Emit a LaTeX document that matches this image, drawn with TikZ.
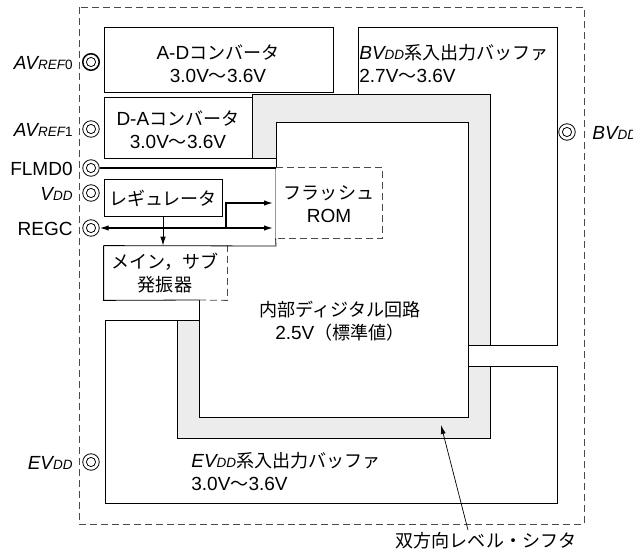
\documentclass[tikz,border=0pt]{standalone}
\usepackage{fontspec}
\setmainfont{Liberation Sans}
\newfontfamily\cjk{Noto Sans CJK JP}[Scale=0.95]
\usetikzlibrary{arrows.meta}
\definecolor{bandgray}{HTML}{ECECEC}
\definecolor{dashgray}{HTML}{4A4A4A}
\newcommand\smit[1]{{\itshape\fontsize{13.5}{13.5}\selectfont #1}}
\newcommand\smup[1]{{\fontsize{13.5}{13.5}\selectfont #1}}
\newcommand\bigit[1]{{\itshape #1}}
\newcommand\jp[1]{{\cjk #1}}
\begin{document}
\begin{tikzpicture}[x=1pt,y=-1pt,line width=0.8pt,
  font=\fontsize{19}{23}\selectfont,
  boxnode/.style={draw,rectangle,inner sep=0pt},
  txt/.style={inner sep=0pt,align=center},
  pinnode/.style={circle,draw,minimum size=16.5pt,inner sep=0pt,
    path picture={\draw[line width=0.8pt] (path picture bounding box.center) circle (4.6pt);}},
  pinlbl/.style={inner sep=0pt,anchor=base east},
  dashline/.style={draw=dashgray,dash pattern=on 7pt off 4pt},
  thickline/.style={line width=1.4pt},
  tip/.style={-{Latex[length=9pt,width=5.5pt]}}]
\useasboundingbox (0,0) rectangle (633,554);

% outer dashed chip outline
\draw[dashline] (79,7) rectangle (584,524);

% level shifter bands
\filldraw[fill=bandgray] (252,94) -- (490,94) -- (490,345) -- (468,345) -- (468,122)
  -- (276,122) -- (276,158) -- (252,158) -- cycle;
\filldraw[fill=bandgray] (177,320) -- (199,320) -- (199,417) -- (468,417) -- (468,366)
  -- (490,366) -- (490,438) -- (177,438) -- cycle;

% internal digital circuit outline
\draw (276,168) -- (276,122) -- (468,122) -- (468,417) -- (199,417) -- (199,300);

% BVdd and EVdd buffer regions
\draw (358,94) -- (358,27) -- (557,27) -- (557,345) -- (490,345);
\draw (177,320) -- (105,320) -- (105,503) -- (557,503) -- (557,366) -- (490,366);

% boxes
\node[boxnode,minimum width=229pt,minimum height=65pt] (ad) at (218.5,59.5) {};
\node[boxnode,minimum width=148pt,minimum height=61pt] (da) at (178,127.5) {};
\node[boxnode,minimum width=118pt,minimum height=37pt] (reg) at (163,197.5) {};
\node[rectangle,inner sep=0pt,minimum width=106pt,minimum height=70pt] (flash) at (329,203) {};
\draw[dashline] (flash.north west) -- (flash.north east) -- (flash.south east) -- (flash.south west);
\draw[draw=gray!80] (flash.north west) -- (flash.south west);
\node[rectangle,inner sep=0pt,minimum width=123pt,minimum height=54pt] (osc) at (165.5,273) {};
\draw (osc.north west) -- (osc.south west) -- (199,300);
\draw[dashline] (199,300) -- (osc.south east) -- (osc.north east);
\draw (osc.north west) -- (276,246) -- (flash.south west);

% texts
\node[txt] (adt) at (218,64) {A-D\jp{コンバータ}\\3.0V\jp{〜}3.6V};
\node[txt] (dat) at (178,130) {D-A\jp{コンバータ}\\3.0V\jp{〜}3.6V};
\node[txt,anchor=west,align=left] (bvt) at (359,64) {\bigit{BV}\smit{DD}\jp{系入出力バッファ}\\2.7V\jp{〜}3.6V};
\node[txt] (flt) at (329,204) {\jp{フラッシュ}\\ROM};
\node[txt] (regt) at (163,198) {\jp{レギュレータ}};
\node[txt] (osct) at (165,273) {\jp{メイン，サブ}\\\jp{発振器}};
\node[txt] (dgt) at (340,321) {\jp{内部ディジタル回路}\\2.5V\jp{（標準値）}};
\node[txt,anchor=west,align=left] (evt) at (191,472) {\bigit{EV}\smit{DD}\jp{系入出力バッファ}\\3.0V\jp{〜}3.6V};
\node[txt] (lst) at (486,541) {\jp{双方向レベル・シフタ}};

% pins
\node[pinnode,line width=1.5pt] (avref0) at (91,62) {};
\node[pinnode] (avref1) at (91,129) {};
\node[pinnode] (flmd) at (91,168) {};
\node[pinnode] (vdd) at (91,193) {};
\node[pinnode] (regc) at (91,228) {};
\node[pinnode] (evdd) at (91,462) {};
\node[pinnode] (bvdd) at (567,132) {};

% pin labels
\node[pinlbl] (l0) at (73,69) {\bigit{AV}\smit{REF}\smup{0}};
\node[pinlbl] (l1) at (73,136) {\bigit{AV}\smit{REF}\smup{1}};
\node[pinlbl] (l2) at (73,175) {FLMD0};
\node[pinlbl] (l3) at (73,200) {\bigit{V}\smit{DD}};
\node[pinlbl] (l4) at (73,235) {REGC};
\node[pinlbl] (l5) at (73,469) {\bigit{EV}\smit{DD}};
\node[inner sep=0pt,anchor=base west] (l6) at (592,139) {\bigit{BV}\smit{DD}};

% connectors
\coordinate (flmdend) at (276,168);
\draw[thickline] (flmd.east) -- (flmdend);
\coordinate (regcend) at (273,228);
\coordinate (br) at (226,228);
\coordinate (flin) at (273,203);
\draw[thickline,{Latex[length=9pt,width=5.5pt]}-{Latex[length=9pt,width=5.5pt]}] (regc.east) -- (regcend);
\draw[thickline,tip] (br) -- (br |- flin) -- (flin);
\draw[tip] (reg.south) -- (reg.south |- osc.north);
\coordinate (lshead) at (441,425);
\coordinate (lstail) at (468,530);
\draw[line width=0.7pt,-{Latex[length=9pt,width=5pt]}] (lstail) -- (lshead);
\end{tikzpicture}
\end{document}
